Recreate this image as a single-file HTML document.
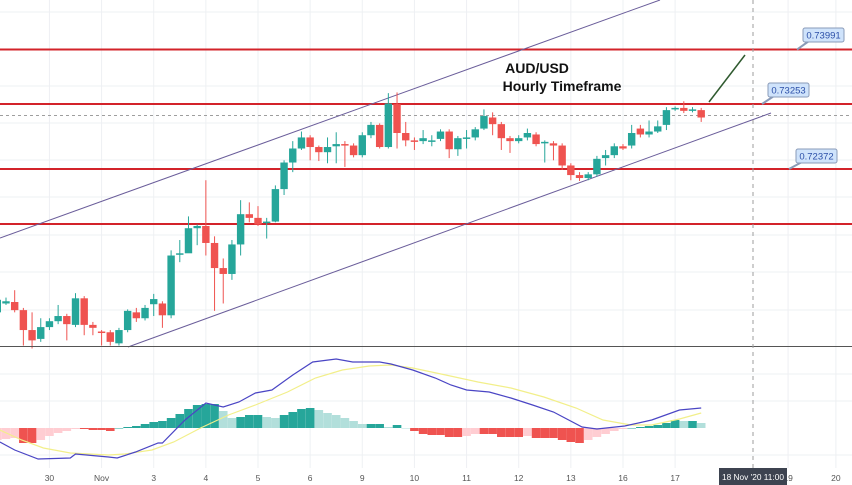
<!DOCTYPE html>
<html><head><meta charset="utf-8"><style>
html,body{margin:0;padding:0;background:#fff;}
svg{display:block;font-family:"Liberation Sans",sans-serif;}
</style></head><body>
<svg id="chart" width="852" height="485" viewBox="0 0 852 485">
<g id="grid"></g>
<g id="levels"></g>
<g id="candles"></g>
<g id="macd"></g>
<g id="annot"></g>
<g id="xaxis"></g>
</svg>
<script>
const opens=[0.7043,0.7055,0.7057,0.7046,0.7019,0.7007,0.7023,0.7031,0.7038,0.7026,0.7062,0.7026,0.7017,0.7016,0.7001,0.7019,0.7043,0.7035,0.7054,0.7055,0.7039,0.7122,0.7123,0.7157,0.7160,0.7137,0.7103,0.7095,0.7135,0.7176,0.7171,0.7165,0.7166,0.7210,0.7246,0.7265,0.7280,0.7267,0.7260,0.7268,0.7271,0.7269,0.7256,0.7283,0.7297,0.7267,0.7325,0.7286,0.7276,0.7275,0.7275,0.7278,0.7288,0.7264,0.7279,0.7280,0.7292,0.7307,0.7298,0.7279,0.7275,0.7280,0.7284,0.7272,0.7272,0.7269,0.7242,0.7229,0.7225,0.7230,0.7252,0.7256,0.7268,0.7269,0.7292,0.7284,0.7288,0.7297,0.7318,0.7320,0.7317,0.7317];
const closes=[0.7060,0.7058,0.7046,0.7019,0.7005,0.7023,0.7031,0.7038,0.7027,0.7062,0.7026,0.7022,0.7016,0.7003,0.7019,0.7045,0.7035,0.7049,0.7061,0.7039,0.7120,0.7123,0.7157,0.7160,0.7137,0.7103,0.7095,0.7135,0.7176,0.7171,0.7162,0.7166,0.7210,0.7246,0.7265,0.7280,0.7267,0.7260,0.7267,0.7271,0.7269,0.7256,0.7283,0.7297,0.7267,0.7326,0.7286,0.7276,0.7274,0.7279,0.7276,0.7288,0.7264,0.7279,0.7280,0.7291,0.7309,0.7298,0.7279,0.7275,0.7279,0.7286,0.7271,0.7274,0.7269,0.7242,0.7229,0.7225,0.7230,0.7251,0.7256,0.7268,0.7265,0.7286,0.7284,0.7288,0.7295,0.7317,0.7320,0.7316,0.7318,0.7307];
const highs=[0.7065,0.7063,0.7073,0.7049,0.7043,0.7035,0.7035,0.7053,0.7041,0.7069,0.7065,0.7030,0.7019,0.7019,0.7022,0.7047,0.7049,0.7053,0.7068,0.7058,0.7127,0.7141,0.7173,0.7162,0.7222,0.7146,0.7116,0.7141,0.7195,0.7192,0.7187,0.7171,0.7215,0.7249,0.7275,0.7288,0.7283,0.7269,0.7280,0.7287,0.7275,0.7272,0.7287,0.7301,0.7299,0.7340,0.7341,0.7301,0.7280,0.7290,0.7283,0.7291,0.7291,0.7282,0.7290,0.7294,0.7318,0.7314,0.7301,0.7282,0.7283,0.7292,0.7287,0.7276,0.7275,0.7272,0.7245,0.7233,0.7233,0.7255,0.7263,0.7272,0.7271,0.7297,0.7297,0.7303,0.7303,0.7321,0.7322,0.7329,0.7321,0.7320];
const lows=[0.7035,0.7053,0.7043,0.6998,0.6994,0.7003,0.7019,0.7027,0.7005,0.7023,0.7012,0.7012,0.6998,0.6998,0.6998,0.7016,0.7030,0.7032,0.7038,0.7022,0.7035,0.7111,0.7134,0.7134,0.7120,0.7045,0.7055,0.7087,0.7120,0.7165,0.7160,0.7143,0.7165,0.7202,0.7233,0.7263,0.7249,0.7248,0.7245,0.7245,0.7240,0.7253,0.7253,0.7279,0.7265,0.7265,0.7265,0.7268,0.7263,0.7271,0.7268,0.7275,0.7252,0.7255,0.7265,0.7276,0.7290,0.7283,0.7263,0.7259,0.7272,0.7276,0.7268,0.7246,0.7249,0.7236,0.7222,0.7221,0.7222,0.7227,0.7242,0.7252,0.7263,0.7265,0.7280,0.7280,0.7286,0.7290,0.7316,0.7313,0.7314,0.7301];
const histogram=[-12,-11,-10,-15,-15,-12,-8,-5,-3,-1,-1,-2,-2,-3,0,1,2,4,6,7,10,14,19,23,24,24,17,10,11,13,13,11,10,13,16,19,20,18,15,13,10,7,4,4,4,1,3,0,-3,-6,-7,-7,-9,-9,-8,-6,-6,-6,-9,-9,-9,-8,-10,-10,-10,-12,-14,-15,-12,-9,-6,-3,-1,0,1,2,3,5,8,7,7,5];
const macdIdx=[0.3,2,4.7,8.4,9,12.8,13.8,15.9,18.5,19,21.6,24,26,27.8,29.7,31.6,34,36.3,39,40.9,44,45.3,47.8,50.4,52.2,54,56.6,59.1,61.6,64,67.3,69,72.2,75.3,78.5,81];
const macdVals=[-14,-22,-31,-30,-26,-29,-30,-24,-15,-15,8,25,21,26,35,38,53,66,69,66,66,64,58,50,43,38,36,30,23,16,1,-1,2,8,18,20];
const sigIdx=[0.3,2.8,5.3,8.4,12.8,14.7,17.8,20.3,23.4,26.6,29.7,33.4,36.6,39.7,42.8,45.3,47.8,51.6,55.3,59.1,62.9,66.6,69.7,72.9,75.3,78.5,81];
const sigVals=[-2,-12,-20,-25,-27,-26,-22,-14,0,13,23,36,50,58,62,63,60,53,46,40,31,20,8,3,3,9,15];
const levelPrices=[0.73991,0.73253,0.72372,0.71627];
const levelLabels=["0.73991","0.73253","0.72372"];
const dayLabels=["0","30","Nov","3","4","5","6","9","10","11","12","13","16","17","19","20"];
const dayPos=[-2.5,6,12,18,24,30,36,42,48,54,60,66,72,78,91,96.5];

const NS="http://www.w3.org/2000/svg";
function mk(tag,attrs,parent){const e=document.createElementNS(NS,tag);for(const k in attrs)e.setAttribute(k,attrs[k]);parent.appendChild(e);return e;}
const xS=i=>-2.7+8.69*i;
const yS=p=>104-(p-0.73253)/0.0001355;
const zeroY=428;
const mY=v=>zeroY-v;

const grid=document.getElementById('grid');
[12,49,86,123,160,197,235,272,310,374,401,455].forEach((y,k)=>{
  const l=mk('line',{x1:0,x2:852,y1:y,y2:y,stroke:'#eef0f3','stroke-width':1},grid);
  
  
});
dayPos.forEach(d=>{
  const x=xS(d);
  const l=mk('line',{x1:x,x2:x,y1:0,y2:468,stroke:'#eef0f3','stroke-width':1},grid);
  
  
});

const lv=document.getElementById('levels');
levelPrices.forEach(p=>{
  const y=yS(p);
  const l=mk('line',{x1:0,x2:852,y1:y,y2:y,stroke:'#d3232a','stroke-width':2},lv);
  
  
});
const cur=mk('line',{x1:0,x2:852,y1:yS(closes[closes.length-1])-2,y2:yS(closes[closes.length-1])-2,stroke:'#9e9e9e','stroke-width':1,'stroke-dasharray':'3,3'},lv);


const ch1=mk('line',{x1:0,y1:238,x2:660,y2:0,stroke:'#6a5d9a','stroke-width':1},lv);


const ch2=mk('line',{x1:128,y1:347,x2:771,y2:113,stroke:'#6a5d9a','stroke-width':1},lv);



const cg=document.getElementById('candles');
opens.forEach((o,i)=>{
  const c=closes[i],up=c>=o,col=up?'#26a69a':'#ef5350';
  const x=xS(i);
  const w=mk('line',{x1:x,x2:x,y1:yS(highs[i]),y2:yS(lows[i]),stroke:col,'stroke-width':1},cg);
  
  
  const t=Math.min(yS(o),yS(c)),h=Math.max(1.5,Math.abs(yS(o)-yS(c)));
  const b=mk('rect',{x:x-3.7,y:t,width:7.4,height:h,fill:col},cg);
  
  
});

const mg=document.getElementById('macd');
const sep=mk('line',{x1:0,x2:852,y1:346.5,y2:346.5,stroke:'#555','stroke-width':1},mg);


histogram.forEach((v,i)=>{
  const prev=i>0?histogram[i-1]:v-1;
  let col;
  if(v>=0)col=v>=prev?'#26a69a':'#b2dfdb';else col=v<=prev?'#ef5350':'#ffcdd2';
  const x=xS(i);
  const y=Math.min(mY(v),zeroY),h=Math.max(0.5,Math.abs(v));
  const r=mk('rect',{x:x-4.3,y:y,width:8.6,height:h,fill:col},mg);
  
  
});
function poly(idx,vals,col,name){
  const pts=idx.map((d,k)=>xS(d).toFixed(1)+','+mY(vals[k]).toFixed(1)).join(' ');
  const p=mk('polyline',{points:pts,fill:'none',stroke:col,'stroke-width':1.2},mg);
  
  
}
poly(sigIdx,sigVals,'#f2ef8a','signal-line');
poly(macdIdx,macdVals,'#4a45c4','macd-line');

const an=document.getElementById('annot');
const vd=mk('line',{x1:753,x2:753,y1:0,y2:468,stroke:'#9e9e9e','stroke-width':1,'stroke-dasharray':'4,4'},an);


const gl=mk('line',{x1:709,y1:102,x2:745,y2:55,stroke:'#2f5a2f','stroke-width':1.5},an);


const t1=mk('text',{x:537,y:73,'font-size':14,'font-weight':'bold','text-anchor':'middle',fill:'#111'},an);
t1.textContent='AUD/USD';


const t2=mk('text',{x:562,y:91,'font-size':14,'font-weight':'bold','text-anchor':'middle',fill:'#111'},an);
t2.textContent='Hourly Timeframe';


const boxX=[803,768,796],boxY=[28,83,149],ptrX=[797,762,789];
levelLabels.forEach((s,k)=>{
  const y=yS(levelPrices[k]);
  const pl=mk('line',{x1:ptrX[k],y1:y,x2:boxX[k]+6,y2:boxY[k]+13,stroke:'#8a9bb8','stroke-width':2},an);
  
  
  const r=mk('rect',{x:boxX[k],y:boxY[k],width:41,height:14,rx:2,fill:'#cfe3fb',stroke:'#8a9bb8','stroke-width':1},an);
  
  
  const t=mk('text',{x:boxX[k]+20.5,y:boxY[k]+10.5,'font-size':9.5,'text-anchor':'middle',fill:'#2b4fa8'},an);
  t.textContent=s;
  
  
});

const xa=document.getElementById('xaxis');
dayLabels.forEach((s,k)=>{
  const t=mk('text',{x:xS(dayPos[k]),y:481,'font-size':8.5,'text-anchor':'middle',fill:'#555'},xa);
  t.textContent=s;
  
  
});
const tb=mk('rect',{x:719,y:468,width:68,height:17,fill:'#3d4350'},xa);


const tt=mk('text',{x:753,y:480,'font-size':8,'text-anchor':'middle',fill:'#fff',textLength:62,lengthAdjust:'spacingAndGlyphs'},xa);
tt.textContent="18 Nov '20  11:00";


</script>
</body></html>
